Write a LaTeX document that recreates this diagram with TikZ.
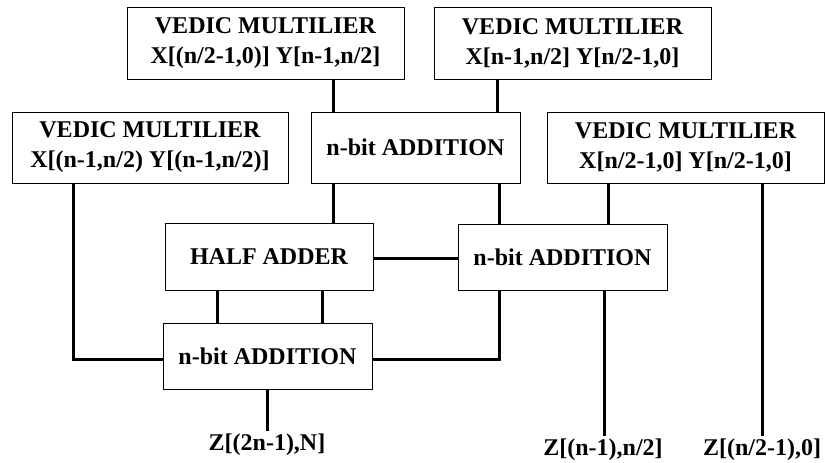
\documentclass[tikz,border=0pt]{standalone}
\usepackage{fontspec}
\setmainfont{Liberation Serif}
\begin{document}
\begin{tikzpicture}[x=1pt,y=-1pt,
  box/.style={draw, line width=0.9pt, inner sep=0pt, align=center, font=\bfseries\fontsize{24}{30}\selectfont},
  wire/.style={line width=3pt},
  outlbl/.style={inner sep=3pt, font=\bfseries\fontsize{24}{30}\selectfont}]
\useasboundingbox (0,0) rectangle (825,463);
\node[box, minimum width=277pt, minimum height=72pt] (A) at (265.5,43) {VEDIC MULTILIER\\X[(n/2-1,0)] Y[n-1,n/2]};
\node[box, minimum width=277pt, minimum height=72pt] (B) at (572.5,43) {VEDIC MULTILIER\\X[n-1,n/2] Y[n/2-1,0]};
\node[box, minimum width=276pt, minimum height=71pt] (C) at (150,147.5) {VEDIC MULTILIER\\X[(n-1,n/2) Y[(n-1,n/2)]};
\node[box, minimum width=209pt, minimum height=71pt] (D) at (415.5,147.5) {n-bit ADDITION};
\node[box, minimum width=277pt, minimum height=71pt] (E) at (685.5,147.5) {VEDIC MULTILIER\\X[n/2-1,0] Y[n/2-1,0]};
\node[box, minimum width=208pt, minimum height=67pt] (F) at (269,256.5) {HALF ADDER};
\node[box, minimum width=209pt, minimum height=66pt] (G) at (562.5,257) {n-bit ADDITION};
\node[box, minimum width=209pt, minimum height=66pt] (H) at (267.5,356) {n-bit ADDITION};
\node[outlbl] (Z1) at (267,445) {Z[(2n-1),N]};
\node[outlbl] (Z2) at (603,450) {Z[(n-1),n/2]};
\node[outlbl] (Z3) at (762,450) {Z[(n/2-1),0]};
% connectors
\draw[wire] (A.south -| 333,0) -- (D.north -| 333,0);
\draw[wire] (B.south -| 497,0) -- (D.north -| 497,0);
\draw[wire] (D.south -| 333,0) -- (F.north -| 333,0);
\draw[wire] (D.south -| 499,0) -- (G.north -| 499,0);
\draw[wire] (E.south -| 608,0) -- (G.north -| 608,0);
\draw[wire] (E.south -| 762,0) -- (Z3.north -| 762,0);
\draw[wire] (F.east |- 0,258) -- (G.west |- 0,258);
\draw[wire] (F.south -| 217,0) -- (H.north -| 217,0);
\draw[wire] (F.south -| 322,0) -- (H.north -| 322,0);
\draw[wire] (C.south -| 73,0) |- (H.west |- 0,359);
\draw[wire] (G.south -| 499,0) |- (H.east |- 0,359);
\draw[wire] (G.south -| 604,0) -- (Z2.north -| 604,0);
\draw[wire] (H.south -| 267,0) -- (Z1.north -| 267,0);
\end{tikzpicture}
\end{document}
